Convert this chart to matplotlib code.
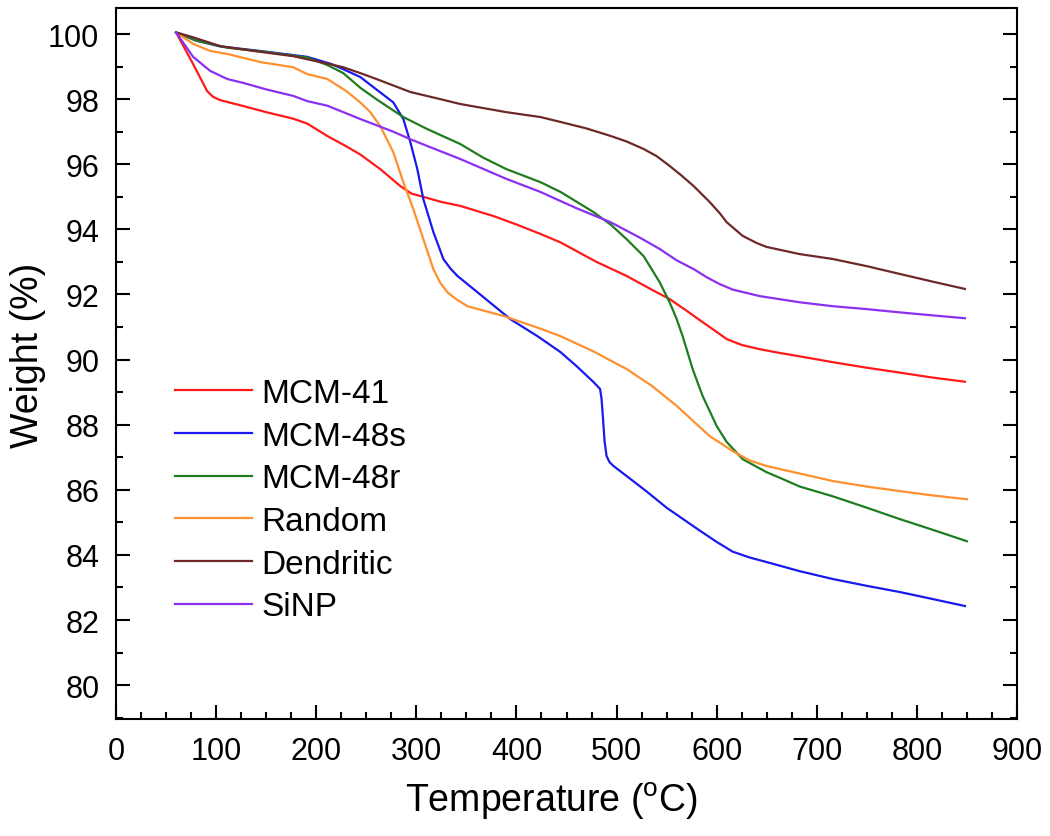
import matplotlib
matplotlib.use("Agg")
import matplotlib.pyplot as plt
from matplotlib.ticker import MultipleLocator

plt.rcParams['font.family'] = ['Liberation Sans', 'DejaVu Sans']
plt.rcParams['mathtext.default'] = 'regular'

labels = ["MCM-41", "MCM-48s", "MCM-48r", "Random", "Dendritic", "SiNP"]
colors = ["#ff1a1a", "#1a1aee", "#1f7d1f", "#ff9030", "#6e2828", "#8a30f0"]

mcm41_x = [60, 77, 91, 97, 104, 127, 150, 177, 191, 211, 230, 244, 264, 284, 295, 307, 324, 344, 377, 400, 424, 444, 480, 510, 535, 553, 570, 586, 600, 610, 625, 643, 660, 683, 716, 750, 783, 815, 848]
mcm41_y = [100.05, 99.08, 98.25, 98.07, 97.97, 97.79, 97.6, 97.4, 97.25, 96.87, 96.55, 96.3, 95.85, 95.33, 95.1, 95.0, 94.85, 94.72, 94.41, 94.15, 93.86, 93.6, 93.0, 92.57, 92.15, 91.86, 91.5, 91.15, 90.85, 90.63, 90.45, 90.32, 90.22, 90.1, 89.92, 89.75, 89.6, 89.45, 89.32]

mcm48s_x = [60, 80, 104, 144, 191, 215, 227, 244, 260, 277, 287, 294, 301, 307, 317, 327, 334, 341, 361, 394, 421, 444, 460, 477, 483.5, 485, 486.5, 488, 490, 493, 497, 514, 530, 550, 583, 600, 616, 633, 650, 683, 716, 750, 783, 815, 848]
mcm48s_y = [100.05, 99.8, 99.62, 99.48, 99.3, 99.08, 98.92, 98.68, 98.3, 97.9, 97.39, 96.68, 95.85, 94.93, 93.92, 93.09, 92.8, 92.57, 92.07, 91.24, 90.72, 90.23, 89.8, 89.31, 89.1, 88.8, 88.17, 87.5, 87.04, 86.85, 86.73, 86.33, 85.95, 85.45, 84.75, 84.4, 84.1, 83.92, 83.78, 83.5, 83.26, 83.05, 82.86, 82.65, 82.43]

mcm48r_x = [60, 80, 111, 150, 191, 211, 227, 244, 260, 287, 311, 344, 367, 390, 424, 444, 460, 477, 494, 510, 527, 543, 553, 560, 566, 576, 586, 600, 610, 626, 650, 666, 683, 716, 750, 783, 815, 850]
mcm48r_y = [100.05, 99.8, 99.58, 99.45, 99.28, 99.05, 98.8, 98.35, 98.0, 97.45, 97.08, 96.62, 96.2, 95.85, 95.45, 95.15, 94.85, 94.53, 94.15, 93.7, 93.18, 92.38, 91.76, 91.25, 90.72, 89.71, 88.88, 87.96, 87.47, 86.94, 86.54, 86.33, 86.1, 85.8, 85.45, 85.1, 84.78, 84.42]

random_x = [60, 77, 94, 111, 144, 177, 191, 211, 230, 244, 254, 264, 277, 287, 297, 307, 317, 324, 331, 340, 351, 387, 424, 444, 477, 510, 535, 560, 593, 616, 633, 650, 683, 716, 750, 783, 815, 850]
random_y = [100.05, 99.7, 99.48, 99.39, 99.14, 98.98, 98.77, 98.62, 98.25, 97.9, 97.6, 97.17, 96.37, 95.45, 94.62, 93.7, 92.78, 92.35, 92.07, 91.85, 91.64, 91.34, 90.95, 90.72, 90.25, 89.71, 89.2, 88.58, 87.65, 87.19, 86.9, 86.73, 86.5, 86.27, 86.1, 85.96, 85.83, 85.71]

dendritic_x = [60, 77, 104, 140, 177, 210, 227, 244, 260, 294, 324, 344, 390, 424, 444, 470, 494, 510, 527, 540, 553, 565, 577, 593, 603, 610, 626, 640, 650, 683, 716, 750, 783, 815, 848]
dendritic_y = [100.05, 99.9, 99.63, 99.47, 99.32, 99.1, 98.98, 98.8, 98.62, 98.22, 98.0, 97.85, 97.6, 97.45, 97.3, 97.1, 96.87, 96.7, 96.47, 96.25, 95.95, 95.65, 95.33, 94.84, 94.5, 94.22, 93.8, 93.58, 93.46, 93.24, 93.09, 92.87, 92.63, 92.4, 92.17]

sinp_x = [60, 77, 94, 111, 127, 150, 177, 191, 211, 244, 277, 294, 311, 344, 390, 424, 444, 460, 494, 523, 543, 560, 577, 590, 603, 616, 643, 683, 716, 750, 783, 815, 848]
sinp_y = [100.05, 99.3, 98.87, 98.62, 98.5, 98.3, 98.1, 97.94, 97.8, 97.39, 97.0, 96.77, 96.56, 96.16, 95.55, 95.15, 94.87, 94.65, 94.22, 93.75, 93.4, 93.05, 92.78, 92.53, 92.32, 92.15, 91.95, 91.76, 91.64, 91.55, 91.45, 91.36, 91.27]

series = [(mcm41_x, mcm41_y), (mcm48s_x, mcm48s_y), (mcm48r_x, mcm48r_y),
          (random_x, random_y), (dendritic_x, dendritic_y), (sinp_x, sinp_y)]

fig = plt.figure(figsize=(10.5, 8.37), dpi=100)
ax = fig.add_axes([116/1050, 1-720/837, (1017-116)/1050, (720-9)/837])

for (xs, ys), lab, c in zip(series, labels, colors):
    ax.plot(xs, ys, color=c, lw=1.6, label=lab, solid_joinstyle='round')

ax.set_xlim(0, 900)
ax.set_ylim(78.96, 100.8)
ax.xaxis.set_major_locator(MultipleLocator(100))
ax.xaxis.set_minor_locator(MultipleLocator(25))
ax.yaxis.set_major_locator(MultipleLocator(2))
ax.yaxis.set_minor_locator(MultipleLocator(1))
ax.set_yticks([80, 82, 84, 86, 88, 90, 92, 94, 96, 98, 100])

ax.tick_params(which='both', direction='in', top=False, right=True, width=1.5)
ax.tick_params(which='major', length=10, labelsize=22, pad=12)
ax.tick_params(which='minor', length=5)
for s in ax.spines.values():
    s.set_linewidth(1.5)

ax.set_xlabel(r'Temperature ($^{o}$C)', fontsize=27, labelpad=10)
ax.xaxis.label.set_x(0.483)
ax.set_ylabel('Weight (%)', fontsize=27)
ax.yaxis.set_label_coords(-0.078, 0.513)

ax.legend(loc='upper left', bbox_to_anchor=(175/1050, 1-379/837),
          bbox_transform=fig.transFigure, frameon=False, fontsize=24,
          handlelength=2.3, handletextpad=0.3, labelspacing=0.35,
          borderpad=0, borderaxespad=0)

fig.savefig('out.png', dpi=100)
